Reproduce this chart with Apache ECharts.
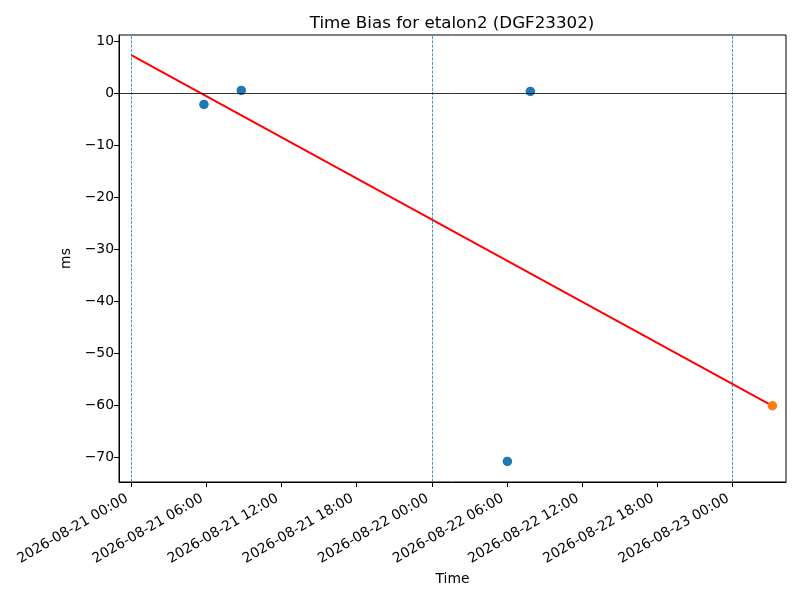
<!DOCTYPE html>
<html>
<head>
<meta charset="utf-8">
<script src="https://cdn.jsdelivr.net/npm/echarts@6/dist/echarts.min.js"></script>
<style>html,body{margin:0;padding:0;background:#fff}#c{width:800px;height:600px}</style>
</head>
<body>
<div id="c"></div>
<script>
var titleText = 'Time Bias for etalon2 (DGF23302)';
var xName = 'Time';
var yName = 'ms';

var blueTimes = ['2026-08-21T05:48:00Z', '2026-08-21T08:47:00Z', '2026-08-22T06:02:00Z', '2026-08-22T07:52:00Z'];
var blueValues = [-2.2, 0.5, -70.8, 0.3];
var orangeTimes = ['2026-08-23T03:12:00Z'];
var orangeValues = [-60.1];
var fitTimes = ['2026-08-21T00:00:00Z', '2026-08-23T03:12:00Z'];
var fitValues = [7.3, -60.1];
var dayLines = ['2026-08-21T00:00:00Z', '2026-08-22T00:00:00Z', '2026-08-23T00:00:00Z'];
var xTicks = ['2026-08-21T00:00:00Z', '2026-08-21T06:00:00Z', '2026-08-21T12:00:00Z', '2026-08-21T18:00:00Z',
              '2026-08-22T00:00:00Z', '2026-08-22T06:00:00Z', '2026-08-22T12:00:00Z', '2026-08-22T18:00:00Z',
              '2026-08-23T00:00:00Z'];
var yTicks = [-70, -60, -50, -40, -30, -20, -10, 0, 10];
var xRange = ['2026-08-20T23:01:00Z', '2026-08-23T04:17:00Z'];
var yRange = [-74.75, 11.15];

function t(s) { return Date.parse(s); }
function pad(n) { return (n < 10 ? '0' : '') + n; }
function fmt(v) {
  var d = new Date(v);
  return d.getUTCFullYear() + '-' + pad(d.getUTCMonth() + 1) + '-' + pad(d.getUTCDate()) + ' ' +
         pad(d.getUTCHours()) + ':' + pad(d.getUTCMinutes());
}
function pairs(ts, vs) { return ts.map(function (s, i) { return [t(s), vs[i]]; }); }
function yfmt(v) { return v < 0 ? '\u2212' + Math.abs(v) : String(v); }

var font = 'DejaVu Sans';
var fs = 13.9;
var chart = echarts.init(document.getElementById('c'));
chart.setOption({
  animation: false,
  backgroundColor: '#fff',
  title: {
    text: titleText, left: 447, top: 10, textAlign: 'center',
    textStyle: { fontFamily: font, fontWeight: 'normal', fontSize: 16.7, color: '#000' }
  },
  grid: { left: 119, right: 14, top: 35, bottom: 118, show: true, borderColor: '#000', borderWidth: 1, backgroundColor: 'transparent' },
  xAxis: {
    type: 'value', min: t(xRange[0]), max: t(xRange[1]),
    name: xName, nameLocation: 'middle', nameGap: 85,
    nameTextStyle: { fontFamily: font, fontSize: fs, color: '#000' },
    axisLine: { show: true, onZero: false, lineStyle: { color: '#000', width: 1 } },
    axisTick: { show: true, length: 5, lineStyle: { color: '#000' }, customValues: xTicks.map(t) },
    axisLabel: { show: true, rotate: 30, margin: 13, padding: [0, 5, 0, 0], fontFamily: font, fontSize: fs, color: '#000',
                 customValues: xTicks.map(t), formatter: function (v) { return fmt(v); } },
    splitLine: { show: false }
  },
  yAxis: {
    type: 'value', min: yRange[0], max: yRange[1],
    name: yName, nameLocation: 'middle', nameGap: 46, nameRotate: 90,
    nameTextStyle: { fontFamily: font, fontSize: fs, color: '#000' },
    axisLine: { show: true, onZero: false, lineStyle: { color: '#000', width: 1 } },
    axisTick: { show: true, length: 5, lineStyle: { color: '#000' }, customValues: yTicks },
    axisLabel: { show: true, margin: 5, fontFamily: font, fontSize: fs, color: '#000',
                 customValues: yTicks, formatter: function (v) { return yfmt(v); } },
    splitLine: { show: false }
  },
  series: [
    {
      type: 'line', data: [], silent: true,
      markLine: {
        silent: true, symbol: 'none', label: { show: false }, animation: false,
        data: dayLines.map(function (s) {
          return { xAxis: t(s), lineStyle: { color: '#1f77b4', width: 0.8, type: [3, 1.3] } };
        }).concat([{ yAxis: 0, lineStyle: { color: '#000', width: 0.8, type: 'solid' } }])
      }
    },
    {
      type: 'scatter', data: pairs(blueTimes, blueValues), symbolSize: 9.5,
      itemStyle: { color: '#1f77b4', opacity: 1 }, z: 3
    },
    {
      type: 'line', data: pairs(fitTimes, fitValues), showSymbol: false, symbol: 'none',
      lineStyle: { color: '#ff0000', width: 2 }, z: 4
    },
    {
      type: 'scatter', data: pairs(orangeTimes, orangeValues), symbolSize: 9.5,
      itemStyle: { color: '#ff7f0e', opacity: 1 }, z: 5
    }
  ]
});
</script>
</body>
</html>
